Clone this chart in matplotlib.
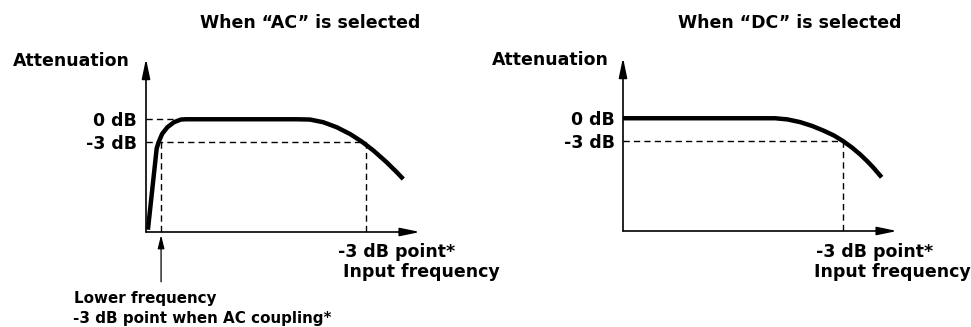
import matplotlib.pyplot as plt

plt.rcParams['font.family'] = ['DejaVu Sans']
plt.rcParams['font.weight'] = 'bold'

# response curves: relative frequency (axis length = 100) vs attenuation in dB
ac_freq = [0.7, 3.9, 4.6, 5.9, 7.8, 10.2, 12.7, 14.5, 55.0, 59.9, 64.7, 69.6,
           74.5, 78.7, 83.0, 87.8, 91.5, 93.9]
ac_db = [-14.4, -3.8, -3.0, -1.9, -1.04, -0.39, -0.04, 0.0, 0.0, -0.04, -0.39,
         -1.04, -1.93, -2.9, -4.08, -5.6, -6.9, -7.8]

dc_freq = [0.0, 55.5, 60.0, 64.6, 69.0, 73.1, 77.0, 80.4, 83.5, 86.5, 89.0,
           91.4, 94.4]
dc_db = [0.0, 0.0, -0.15, -0.5, -1.0, -1.6, -2.25, -3.0, -3.8, -4.7, -5.55,
         -6.45, -7.7]

ac_low_cut = 5.5
ac_high_cut = 80.3
dc_high_cut = 80.4
flat_start = 14.5

db_levels = [0, -3]
db_labels = ['0 dB', '-3 dB']
titles = ['When \u201cAC\u201d is selected', 'When \u201cDC\u201d is selected']

W, H = 971, 327
Y_MIN, Y_MAX = -14.7, 8.0
PX_X = 2.74   # pixels per frequency unit
PX_DB = 7.67  # pixels per dB

fig = plt.figure(figsize=(W / 100, H / 100), dpi=100)

axis_arrow = dict(arrowstyle='-|>,head_length=1.2,head_width=0.25',
                  color='black', lw=1.2, mutation_scale=10,
                  shrinkA=0, shrinkB=0)


def make_axes(ox, oy):
    w = 100 * PX_X
    h = (Y_MAX - Y_MIN) * PX_DB
    ax = fig.add_axes([ox / W, (H - oy) / H, w / W, h / H])
    ax.set_xlim(0, 100)
    ax.set_ylim(Y_MIN, Y_MAX)
    ax.axis('off')
    ax.annotate('', xy=(100, Y_MIN), xytext=(0, Y_MIN),
                arrowprops=axis_arrow, annotation_clip=False)
    ax.annotate('', xy=(0, 7.9), xytext=(0, Y_MIN),
                arrowprops=axis_arrow, annotation_clip=False)
    return ax


def ftext(x, y, s, **kw):
    fig.text(x / W, 1 - y / H, s, fontweight='bold', color='black', **kw)


dash = dict(color='black', lw=1.0, linestyle=(0, (4.5, 3)), clip_on=False)
curve = dict(color='black', lw=3.2, clip_on=False, solid_joinstyle='round',
             solid_capstyle='butt')

# left panel (AC)
ax1 = make_axes(146, 232)
ax1.plot([0, flat_start], [0, 0], **dash)
ax1.plot([0, ac_high_cut], [-3, -3], **dash)
ax1.plot([ac_low_cut, ac_low_cut], [-3, Y_MIN], **dash)
ax1.plot([ac_high_cut, ac_high_cut], [-3, Y_MIN], **dash)
ax1.plot(ac_freq, ac_db, **curve)
ax1.annotate('', xy=(ac_low_cut, -15.1), xytext=(ac_low_cut, -21.2),
             arrowprops=dict(arrowstyle='-|>,head_length=0.8,head_width=0.2',
                             color='black', lw=0.9, mutation_scale=10,
                             shrinkA=0, shrinkB=0),
             annotation_clip=False)

# right panel (DC)
ax2 = make_axes(623, 231)
ax2.plot([0, dc_high_cut], [-3, -3], **dash)
ax2.plot([dc_high_cut, dc_high_cut], [-3, Y_MIN], **dash)
ax2.plot(dc_freq, dc_db, **curve)

# texts
fs = 12.5
ftext(310, 28.3, titles[0], fontsize=fs, ha='center', va='baseline')
ftext(790, 28.3, titles[1], fontsize=fs, ha='center', va='baseline')
ftext(13, 65.7, 'Attenuation', fontsize=fs, ha='left', va='baseline')
ftext(492, 65.0, 'Attenuation', fontsize=fs, ha='left', va='baseline')
for ox, zero_y in [(137, 119), (615, 118)]:
    for lvl, lab in zip(db_levels, db_labels):
        ftext(ox, zero_y - lvl * PX_DB + 6.7, lab, fontsize=fs, ha='right',
              va='baseline')
ftext(338, 256.7, '-3 dB point*', fontsize=fs, ha='left', va='baseline')
ftext(343, 276.7, 'Input frequency', fontsize=fs, ha='left', va='baseline')
ftext(816, 256.7, '-3 dB point*', fontsize=fs, ha='left', va='baseline')
ftext(814, 276.7, 'Input frequency', fontsize=fs, ha='left', va='baseline')
ftext(74, 302.7, 'Lower frequency', fontsize=10.9, ha='left', va='baseline')
ftext(73, 323.3, '-3 dB point when AC coupling*', fontsize=10.9, ha='left',
      va='baseline')

fig.savefig('out.png', dpi=100)
